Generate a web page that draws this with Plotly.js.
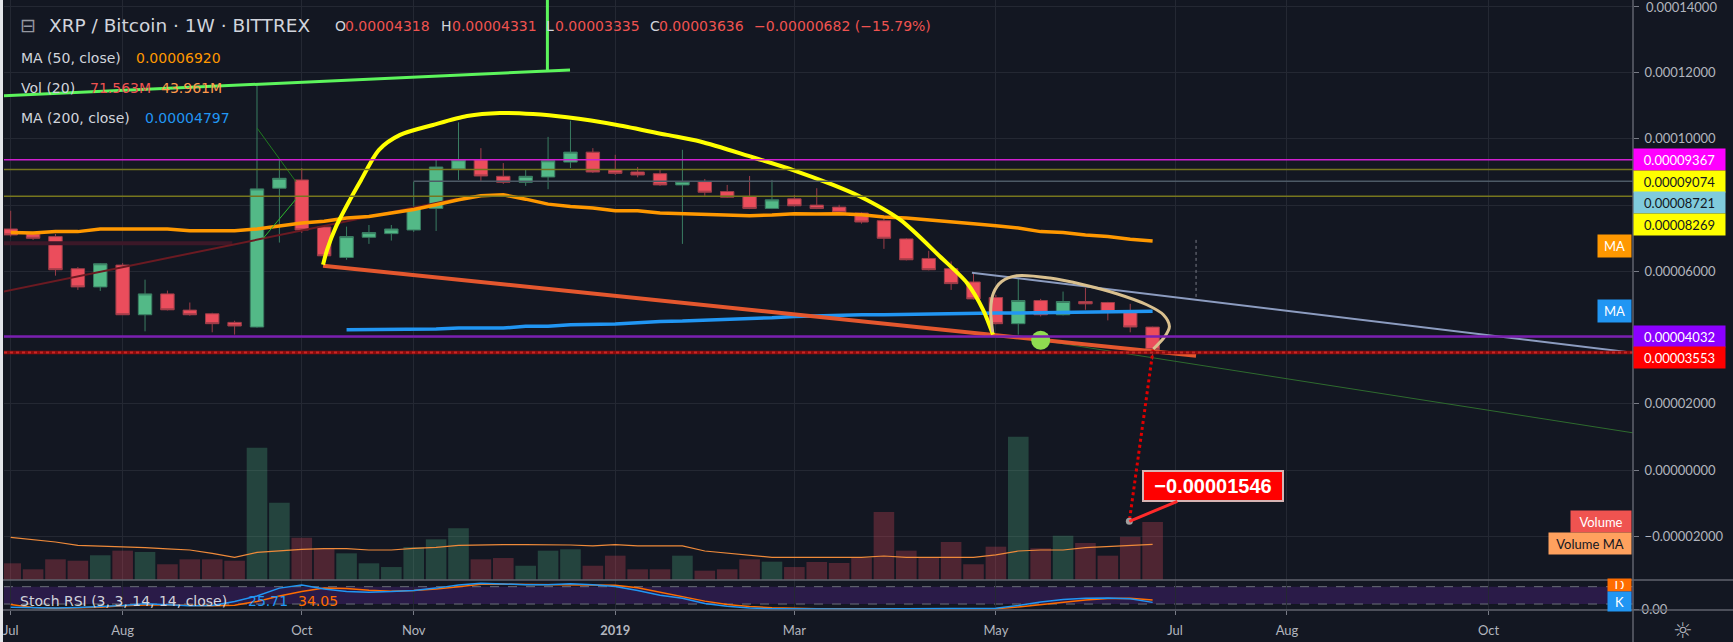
<!DOCTYPE html>
<html><head><meta charset="utf-8">
<script src="https://cdn.plot.ly/plotly-3.0.1.min.js"></script>
<style>
html,body{margin:0;padding:0;background:#e3e5ea;width:1733px;height:642px;overflow:hidden}
#chart{position:absolute;left:3px;top:0;width:1730px;height:642px}
</style></head><body><div id="chart"></div>
<script>
// ---------- DATA ----------
const weeks = ['2018-07-02','2018-07-09','2018-07-16','2018-07-23','2018-07-30','2018-08-06','2018-08-13','2018-08-20','2018-08-27','2018-09-03','2018-09-10','2018-09-17','2018-09-24','2018-10-01','2018-10-08','2018-10-15','2018-10-22','2018-10-29','2018-11-05','2018-11-12','2018-11-19','2018-11-26','2018-12-03','2018-12-10','2018-12-17','2018-12-24','2018-12-31','2019-01-07','2019-01-14','2019-01-21','2019-01-28','2019-02-04','2019-02-11','2019-02-18','2019-02-25','2019-03-04','2019-03-11','2019-03-18','2019-03-25','2019-04-01','2019-04-08','2019-04-15','2019-04-22','2019-04-29','2019-05-06','2019-05-13','2019-05-20','2019-05-27','2019-06-03','2019-06-10','2019-06-17','2019-06-24'];
const open = [7.28e-5,7.13e-5,7.05e-5,6.08e-5,5.53e-5,6.19e-5,4.69e-5,5.32e-5,4.83e-5,4.72e-5,4.46e-5,4.32e-5,8.51e-5,8.76e-5,7.34e-5,6.42e-5,7.03e-5,7.14e-5,7.25e-5,7.90e-5,9.09e-5,9.37e-5,8.87e-5,8.69e-5,8.85e-5,9.30e-5,9.60e-5,9.06e-5,9.00e-5,8.95e-5,8.61e-5,8.71e-5,8.41e-5,8.26e-5,7.90e-5,8.19e-5,8.00e-5,7.94e-5,7.76e-5,7.53e-5,6.98e-5,6.39e-5,6.08e-5,5.68e-5,5.21e-5,4.42e-5,5.12e-5,4.69e-5,5.09e-5,5.06e-5,4.79e-5,4.318e-5];
const high = [7.83e-5,7.15e-5,7.13e-5,6.13e-5,6.25e-5,6.25e-5,5.75e-5,5.42e-5,5.06e-5,4.75e-5,4.51e-5,11.66e-5,9.39e-5,9.12e-5,7.40e-5,7.35e-5,7.40e-5,7.40e-5,8.71e-5,9.37e-5,10.50e-5,9.72e-5,9.27e-5,9.09e-5,10.06e-5,10.55e-5,9.72e-5,9.52e-5,9.15e-5,9.09e-5,9.67e-5,8.79e-5,8.61e-5,8.88e-5,8.76e-5,8.31e-5,8.51e-5,8.01e-5,7.78e-5,7.61e-5,7.00e-5,6.62e-5,6.30e-5,5.98e-5,5.29e-5,5.80e-5,5.17e-5,5.39e-5,5.50e-5,5.08e-5,5.02e-5,4.331e-5];
const low = [7.05e-5,6.95e-5,5.87e-5,5.44e-5,5.41e-5,4.69e-5,4.19e-5,4.82e-5,4.66e-5,4.16e-5,4.09e-5,4.30e-5,6.87e-5,7.16e-5,6.40e-5,6.35e-5,6.83e-5,6.93e-5,7.19e-5,7.22e-5,8.76e-5,8.73e-5,8.64e-5,8.58e-5,8.48e-5,9.12e-5,8.97e-5,8.91e-5,8.84e-5,8.58e-5,6.83e-5,8.28e-5,8.22e-5,7.88e-5,7.88e-5,7.95e-5,7.88e-5,7.76e-5,7.44e-5,6.68e-5,6.33e-5,6.03e-5,5.44e-5,5.15e-5,4.40e-5,4.09e-5,4.64e-5,4.67e-5,4.84e-5,4.52e-5,4.16e-5,3.335e-5];
const close = [7.10e-5,7.00e-5,6.05e-5,5.53e-5,6.23e-5,4.69e-5,5.32e-5,4.84e-5,4.69e-5,4.42e-5,4.35e-5,8.49e-5,8.81e-5,7.25e-5,6.47e-5,7.05e-5,7.17e-5,7.28e-5,7.90e-5,9.15e-5,9.37e-5,8.88e-5,8.69e-5,8.87e-5,9.34e-5,9.60e-5,9.00e-5,8.96e-5,8.91e-5,8.61e-5,8.71e-5,8.39e-5,8.24e-5,7.90e-5,8.16e-5,7.98e-5,7.90e-5,7.78e-5,7.49e-5,7.00e-5,6.35e-5,6.05e-5,5.63e-5,5.17e-5,4.42e-5,5.12e-5,4.69e-5,5.09e-5,5.02e-5,4.77e-5,4.32e-5,3.636e-5];
const volume = [20.6e6,13.2e6,25.5e6,23.8e6,30.5e6,36.2e6,34.6e6,19.4e6,25.5e6,25.5e6,23.8e6,163.3e6,95.4e6,52.2e6,39.1e6,32.9e6,20.6e6,16.0e6,40.7e6,50.2e6,63.8e6,25.5e6,27.1e6,17.6e6,36.2e6,37.9e6,17.6e6,30.0e6,13.2e6,13.2e6,30.0e6,11.5e6,13.2e6,25.5e6,22.6e6,16.0e6,22.2e6,21.0e6,27.5e6,83.9e6,36.2e6,27.5e6,46.9e6,19.4e6,41.1e6,176.8e6,39.1e6,54.7e6,45.7e6,30.0e6,53.4e6,71.563e6];
const volumeMA = [52.7e6,50.2e6,46.9e6,42.8e6,42.0e6,41.1e6,39.9e6,38.3e6,37.0e6,32.9e6,28.0e6,34.1e6,36.2e6,37.8e6,38.7e6,38.7e6,37.0e6,37.0e6,39.1e6,40.3e6,42.8e6,43.6e6,43.6e6,43.6e6,43.6e6,43.2e6,42.0e6,43.6e6,42.0e6,42.0e6,42.0e6,35.8e6,32.9e6,30.4e6,28.0e6,28.0e6,28.0e6,28.0e6,28.0e6,29.6e6,28.0e6,28.0e6,28.0e6,28.0e6,30.9e6,35.8e6,37.0e6,37.0e6,39.9e6,41.1e6,42.4e6,43.961e6];
const ma50 = [7.17e-5,7.16e-5,7.20e-5,7.20e-5,7.28e-5,7.28e-5,7.28e-5,7.28e-5,7.23e-5,7.23e-5,7.23e-5,7.28e-5,7.38e-5,7.46e-5,7.51e-5,7.61e-5,7.66e-5,7.76e-5,7.87e-5,8.01e-5,8.16e-5,8.28e-5,8.31e-5,8.18e-5,8.03e-5,7.96e-5,7.91e-5,7.83e-5,7.83e-5,7.76e-5,7.74e-5,7.73e-5,7.69e-5,7.68e-5,7.70e-5,7.74e-5,7.73e-5,7.74e-5,7.71e-5,7.64e-5,7.61e-5,7.56e-5,7.51e-5,7.44e-5,7.38e-5,7.31e-5,7.20e-5,7.17e-5,7.10e-5,7.05e-5,6.97e-5,6.92e-5];
const ma200 = [null,null,null,null,null,null,null,null,null,null,null,null,null,null,null,4.24e-5,4.24e-5,4.24e-5,4.26e-5,4.26e-5,4.29e-5,4.29e-5,4.29e-5,4.34e-5,4.34e-5,4.39e-5,4.39e-5,4.41e-5,4.45e-5,4.49e-5,4.50e-5,4.52e-5,4.56e-5,4.57e-5,4.60e-5,4.64e-5,4.66e-5,4.69e-5,4.69e-5,4.69e-5,4.70e-5,4.72e-5,4.74e-5,4.74e-5,4.74e-5,4.74e-5,4.75e-5,4.77e-5,4.78e-5,4.80e-5,4.80e-5,4.797e-5];
const stochK = [9,7,6,8,11,15,21,17,14,15,29,48,75,86,72,63,61,63,67,75,86,92,89,87,87,90,87,81,67,50,40,22,12,6,4,3,3,3,3,3,3,3,3,3,5,15,27,36,40,41,38,25.71];
const stochD = [18,8,5,6,9,14,17,17,15,14,16,29,48,63,75,74,68,64,67,72,80,88,89,88,86,86,86,85,76,60,45,30,18,11,7,5,4,4,4,4,4,4,4,4,4,10,18,26,34,39,40,34.05];

const monthTicks = ['2018-07-02','2018-08-06','2018-10-01','2018-11-05','2019-01-07','2019-03-04','2019-05-06','2019-07-01','2019-08-05','2019-10-07'];
const monthLabels = ['Jul','Aug','Oct','Nov','<b>2019</b>','Mar','May','Jul','Aug','Oct'];
const priceTicks = [-2e-5,0,2e-5,4e-5,6e-5,8e-5,10e-5,12e-5,14e-5];
const priceTickLabels = ['\u22120.00002000','0.00000000','0.00002000','','0.00006000','','0.00010000','0.00012000',''];
const topTickLabel = '0.00014000';

const levelPrices = [9.367e-5, 9.074e-5, 8.721e-5, 8.269e-5, 4.032e-5, 3.553e-5];
const levelLabels = ['0.00009367','0.00009074','0.00008721','0.00008269','0.00004032','0.00003553'];

// legend values
const ohlcNames = ['O','H','L','C'];
const ohlcValues = ['0.00004318','0.00004331','0.00003335','0.00003636'];
const changeText = '\u22120.00000682 (\u221215.79%)';
const ma50Last = '0.00006920', ma200Last = '0.00004797';
const volLast = '71.563M', volMALast = '43.961M';
const stochKLast = '25.71', stochDLast = '34.05';

// drawings: anchors in bar index (weeks from first bar) and price
const greenTopBars = [-0.3, 24.98],   greenTopPrices = [11.30e-5, 12.08e-5];
const greenVertBars = [23.97, 23.97], greenVertPrices = [12.06e-5, 15.0e-5];
const thinGreen1Bars = [11.01, 12.74], thinGreen1Prices = [10.32e-5, 8.71e-5];
const thinGreen2Bars = [11.28, 12.74], thinGreen2Prices = [7.00e-5, 8.18e-5];
const redRiseBars = [-0.32, 19.93],   redRisePrices = [5.39e-5, 8.19e-5];
const maroonBars = [-0.5, 9.9],       maroonPrices = [6.85e-5, 6.85e-5];
const arcBars = [13.95,14.13,14.53,15.15,15.65,16.45,17.39,18.86,20.38,21.85,23.33,24.85,27.08,29.31,30.79,33.02,34.94,36.73,37.93,39.72,41.50,42.71,43.43,43.87];
const arcPrices = [6.20e-5,6.65e-5,7.35e-5,8.16e-5,8.76e-5,9.67e-5,10.12e-5,10.42e-5,10.69e-5,10.78e-5,10.75e-5,10.65e-5,10.42e-5,10.12e-5,9.92e-5,9.47e-5,9.06e-5,8.61e-5,8.26e-5,7.56e-5,6.45e-5,5.65e-5,4.84e-5,4.09e-5];
const supportBars = [13.95, 52.94],   supportPrices = [6.17e-5, 3.45e-5];
const slateBars = [42.93, 72.6],      slatePrices = [5.96e-5, 3.53e-5];
const darkGreenBars = [46.0, 72.6],   darkGreenPrices = [3.92e-5, 1.11e-5];
const loopBars = [43.86,43.77,43.89,44.26,44.93,46.42,47.91,49.40,50.74,51.48,51.75,51.55,51.03];
const loopPrices = [4.157e-5,4.842e-5,5.345e-5,5.695e-5,5.867e-5,5.798e-5,5.596e-5,5.324e-5,4.992e-5,4.691e-5,4.338e-5,4.036e-5,3.656e-5];
const dotBars = [46.0], dotPrices = [3.92e-5];
const measureBars = [52.94, 52.94], measurePrices = [6.95e-5, 5.14e-5];
const targetBars = [51.02, 49.96], targetPrices = [3.636e-5, -1.546e-5];
const targetLabel = '\u22120.00001546';

// ---------- HELPERS ----------
function barDate(i){ return new Date(Date.UTC(2018,6,2) + i*7*86400000).toISOString().replace('T',' ').slice(0,19); }
const PL = 4, PW = 1629, PH = 610;
function X(px){ return (px-PL)/PW; }
function Y(py){ return (PH-py)/PH; }
const FONT = 'Lato, "Open Sans", "DejaVu Sans", sans-serif';
const LFONT = '"DejaVu Sans", Lato, sans-serif';
const BG = '#131722', GRID = '#242833', SEP = '#60636e';

function line(bars, prices, color, width, extra){
  return Object.assign({type:'scatter', mode:'lines', x:bars.map(barDate), y:prices, xaxis:'x', yaxis:'y2',
    line:{color:color, width:width}, hoverinfo:'skip'}, extra||{});
}

const upCol = 'rgba(83,185,135,0.28)', dnCol = 'rgba(235,77,92,0.28)';
const volColors = close.map((c,i)=> c>=open[i] ? upCol : dnCol);

const traces = [
  {type:'bar', x:weeks, y:volume, xaxis:'x', yaxis:'y', marker:{color:volColors, line:{width:0}}, hoverinfo:'skip'},
  {type:'scatter', mode:'lines', x:weeks, y:volumeMA, xaxis:'x', yaxis:'y', line:{color:'#ef8a3a', width:1.2}, hoverinfo:'skip'},
  line(maroonBars, maroonPrices, '#3c1828', 4),
  line(redRiseBars, redRisePrices, '#6b1a22', 2),
  {type:'candlestick', x:weeks, open:open, high:high, low:low, close:close, xaxis:'x', yaxis:'y2',
    increasing:{line:{color:'#3a7d62', width:1}, fillcolor:'#53b987'},
    decreasing:{line:{color:'#9c3d48', width:1}, fillcolor:'#eb4d5c'},
    whiskerwidth:0, hoverinfo:'skip'},
  {type:'scatter', mode:'lines', x:weeks, y:ma50, xaxis:'x', yaxis:'y2', line:{color:'#ff9800', width:3.5}, hoverinfo:'skip'},
  {type:'scatter', mode:'lines', x:weeks, y:ma200, xaxis:'x', yaxis:'y2', line:{color:'#2196f3', width:3.5}, hoverinfo:'skip'},
  line(thinGreen1Bars, thinGreen1Prices, '#1f7a1f', 1),
  line(thinGreen2Bars, thinGreen2Prices, '#2db82d', 1),
  line(greenTopBars, greenTopPrices, '#5cf55c', 3),
  line(greenVertBars, greenVertPrices, '#5cf55c', 3),
  line(slateBars, slatePrices, '#8c9cc0', 2),
  line(darkGreenBars, darkGreenPrices, '#2e6b2e', 1),
  line(supportBars, supportPrices, '#e4572e', 4),
  line(arcBars, arcPrices, '#ffff00', 4, {line:{color:'#ffff00', width:4, shape:'spline', smoothing:0.8}}),
  line(loopBars, loopPrices, '#d9c08f', 3, {line:{color:'#d9c08f', width:3, shape:'spline', smoothing:0.9}}),
  line(measureBars, measurePrices, '#787b86', 1, {line:{color:'#787b86', width:1, dash:'dot'}}),
  {type:'scatter', mode:'markers', x:dotBars.map(barDate), y:dotPrices, xaxis:'x', yaxis:'y2', marker:{color:'#8fdd50', size:19}, hoverinfo:'skip'},
  line(targetBars, targetPrices, '#e00000', 3, {line:{color:'#e00000', width:3, dash:'dot'}}),
  {type:'scatter', mode:'markers', x:[barDate(targetBars[1])], y:[targetPrices[1]], xaxis:'x', yaxis:'y2', marker:{color:'#9e9e9e', size:7}, hoverinfo:'skip'},
  {type:'scatter', mode:'lines', x:weeks, y:stochD, xaxis:'x', yaxis:'y3', line:{color:'#ff6d00', width:1.5}, hoverinfo:'skip'},
  {type:'scatter', mode:'lines', x:weeks, y:stochK, xaxis:'x', yaxis:'y3', line:{color:'#2196f3', width:1.5}, hoverinfo:'skip'}
];

// ---------- SHAPES ----------
const levelStyle = [
  {color:'#d020d0', width:1.5},
  {color:'#76761e', width:1.5},
  {color:'#4d5a66', width:1.5, from:18},
  {color:'#76761e', width:1.5},
  {color:'#7a1fb0', width:2.5},
  {color:'#8a0c0c', width:3.5}
];
const shapes = [];
shapes.push({type:'rect', xref:'paper', yref:'y3', x0:0, x1:1, y0:20, y1:80, fillcolor:'#2a1b48', line:{width:0}, layer:'below'});
[20,80].forEach(v=>shapes.push({type:'line', xref:'paper', yref:'y3', x0:0, x1:1, y0:v, y1:v, line:{color:'#6b6e79', width:1, dash:'dash'}, layer:'below'}));
levelPrices.forEach((p,k)=>{
  const s = levelStyle[k];
  if (s.from !== undefined) {
    shapes.push({type:'line', xref:'x', yref:'y2', x0:barDate(s.from), x1:barDate(90), y0:p, y1:p, line:{color:s.color, width:s.width}, layer:'above'});
  } else {
    shapes.push({type:'line', xref:'paper', yref:'y2', x0:0, x1:1, y0:p, y1:p, line:{color:s.color, width:s.width}, layer:'above'});
  }
});
shapes.push({type:'line', xref:'paper', yref:'y2', x0:0, x1:1, y0:levelPrices[5], y1:levelPrices[5], line:{color:'#c62828', width:2, dash:'dot'}, layer:'above'});
shapes.push({type:'line', xref:'paper', yref:'paper', x0:X(3), x1:X(1733), y0:Y(580), y1:Y(580), line:{color:SEP, width:1.5}});
shapes.push({type:'line', xref:'paper', yref:'paper', x0:X(3), x1:X(1733), y0:Y(610), y1:Y(610), line:{color:SEP, width:1.5}});
shapes.push({type:'line', xref:'paper', yref:'paper', x0:1, x1:1, y0:Y(642), y1:1, line:{color:SEP, width:1.5}});

// ---------- ANNOTATIONS ----------
const levelBg = ['#ff00ff','#ffff00','#80cbdc','#ffff00','#8c00ff','#ff0000'];
const levelFg = ['#ffffff','#131722','#131722','#131722','#ffffff','#ffffff'];
const levelShift = [0,-12,-21,-28,0,-5];
const ann = [];
levelPrices.forEach((p,k)=>ann.push({xref:'paper', yref:'y2', x:1, y:p, xanchor:'left', yanchor:'middle', yshift:levelShift[k],
  text:levelLabels[k], showarrow:false, bgcolor:levelBg[k], width:87, height:17, borderpad:2, align:'center',
  font:{family:FONT, size:13, color:levelFg[k]}}));

const red='#ef5350', orange='#ff9800', blue='#2196f3', txtCol='#d1d4dc';
function txt(px, py, text, size, color, family, extra){
  return Object.assign({xref:'paper', yref:'paper', x:X(px), y:Y(py), xanchor:'left', yanchor:'middle', showarrow:false,
    text:text, font:{family:family||LFONT, size:size, color:color}}, extra||{});
}
ann.push(txt(18, 25, '\u229f', 19, '#9598a1'));
ann.push(txt(47, 25, 'XRP / Bitcoin \u00b7 1W \u00b7 BITTREX', 18.5, txtCol));
const ohlcX = [333, 439, 543.5, 648], ohlcValX = [342.5, 449.5, 552.5, 657];
ohlcNames.forEach((n,k)=>{
  ann.push(txt(ohlcX[k], 26, n, 14, txtCol));
  ann.push(txt(ohlcValX[k], 26, ohlcValues[k], 14, red));
});
ann.push(txt(752, 26, changeText, 14, red));
ann.push(txt(19, 58, 'MA (50, close)', 14, txtCol));
ann.push(txt(134, 58, ma50Last, 14, orange));
ann.push(txt(19, 88, 'Vol (20)', 14, txtCol));
ann.push(txt(88, 88, volLast, 14, red));
ann.push(txt(159, 88, volMALast, 14, '#ff9a4a'));
ann.push(txt(19, 118, 'MA (200, close)', 14, txtCol));
ann.push(txt(143, 118, ma200Last, 14, blue));
ann.push(txt(18, 601, 'Stoch RSI (3, 3, 14, 14, close)', 14, txtCol));
ann.push(txt(246, 601, stochKLast, 14, blue));
ann.push(txt(295.5, 601, stochDLast, 14, '#ff6d00'));
ann.push(txt(1644, 7.5, topTickLabel, 13, '#b2b5be', FONT));

function box(pxRight, pyMid, text, bg, fg, w, h){
  return {xref:'paper', yref:'paper', x:X(pxRight), y:Y(pyMid), xanchor:'right', yanchor:'middle', showarrow:false,
    text:text, bgcolor:bg, width:w, height:h, borderpad:2, font:{family:FONT, size:13, color:fg}};
}
ann.push(box(1632, 246, 'MA', '#ff9800', '#ffffff', 29, 18));
ann.push(box(1632, 311, 'MA', '#2196f3', '#ffffff', 29, 18));
ann.push(box(1632, 521.5, 'Volume', '#ef5350', '#ffffff', 56, 17));
ann.push(box(1632, 543.5, 'Volume MA', '#ffa15e', '#131722', 78, 17));
ann.push(box(1632, 585, 'D', '#ff6d00', '#ffffff', 19, 8));
ann.push(box(1632, 601, 'K', '#2196f3', '#ffffff', 19, 15));
ann.push(txt(1683, 630, '\u263c', 22, '#b2b5be', LFONT, {xanchor:'center'}));

ann.push({xref:'x', yref:'y2', x:barDate(targetBars[1]), y:targetPrices[1], ax:84, ay:-35, text:'<b>'+targetLabel+'</b>',
  showarrow:true, arrowhead:0, arrowwidth:3, arrowcolor:'#ff2a2a', standoff:0,
  bgcolor:'#ff0000', bordercolor:'#d6b4b4', borderwidth:2, borderpad:3, width:132, height:22,
  font:{family:'"Liberation Sans", Arial, sans-serif', size:20, color:'#ffffff'}});

// ---------- LAYOUT ----------
const layout = {
  width:1730, height:642, paper_bgcolor:BG, plot_bgcolor:BG,
  margin:{l:1, r:100, t:0, b:32, autoexpand:false},
  showlegend:false, hovermode:false, bargap:0.08, boxgap:0.4, boxgroupgap:0,
  font:{family:FONT, color:'#b2b5be', size:13},
  xaxis:{type:'date', range:['2018-06-29 21:45','2019-11-21 04:20'], anchor:'y3', tickvals:monthTicks, ticktext:monthLabels,
    showgrid:true, gridcolor:GRID, gridwidth:1, zeroline:false, showline:false, ticks:'outside', ticklen:4, tickcolor:'#787b86',
    tickfont:{family:FONT, size:13, color:'#b2b5be'}, ticklabelstandoff:4, ticklabeloverflow:'allow', rangeslider:{visible:false}, fixedrange:true},
  yaxis:{domain:[30/610,1], range:[0,715.7e6], visible:false, showgrid:false, fixedrange:true},
  yaxis2:{overlaying:'y', side:'right', anchor:'x', range:[-3.318e-5,14.193e-5], tickvals:priceTicks, ticktext:priceTickLabels,
    showgrid:true, gridcolor:GRID, gridwidth:1, zeroline:false, showline:false, ticks:'outside', ticklen:5, tickcolor:'#787b86',
    tickfont:{family:FONT, size:13, color:'#b2b5be'}, ticklabelstandoff:3, ticklabeloverflow:'allow', fixedrange:true},
  yaxis3:{domain:[0,30/610], side:'right', anchor:'x', range:[-0.7,103.1], tickvals:[0], ticktext:['0.00'], showgrid:false,
    zeroline:false, showline:false, ticks:'outside', ticklen:5, tickcolor:'#787b86', tickfont:{family:FONT, size:13, color:'#b2b5be'}, ticklabeloverflow:'allow', fixedrange:true},
  shapes:shapes, annotations:ann
};
Plotly.newPlot('chart', traces, layout, {displayModeBar:false, staticPlot:true});
</script></body></html>
